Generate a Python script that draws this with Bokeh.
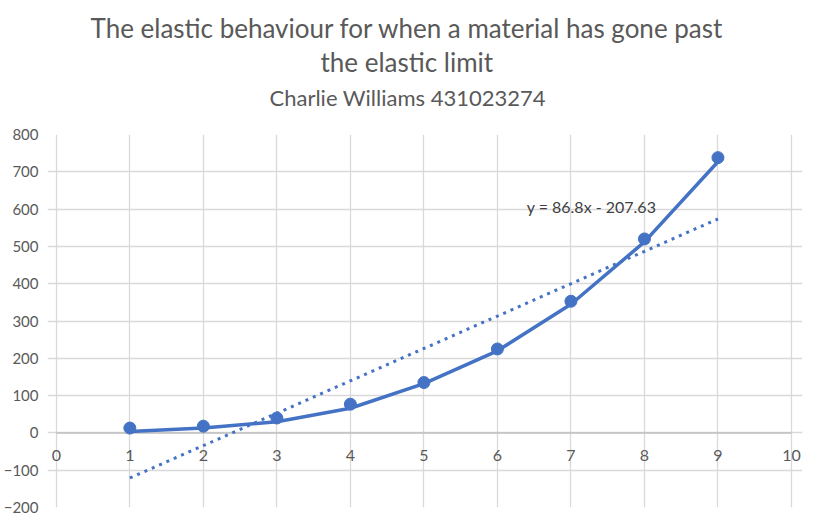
from bokeh.plotting import figure
from bokeh.models import Title, Range1d, FixedTicker, Label, LabelSet, ColumnDataSource
from bokeh.core.properties import value
from bokeh.embed import file_html
from bokeh.resources import INLINE

# data
x_vals = [1, 2, 3, 4, 5, 6, 7, 8, 9]
measured = [13, 18, 40, 77, 135, 225, 353, 520, 738]
series_line = [4, 13, 30, 66, 132, 220, 345, 512, 727]
trend_slope = 86.8
trend_intercept = -207.63
x_ticks = [0, 1, 2, 3, 4, 5, 6, 7, 8, 9, 10]
x_tick_labels = ["0", "1", "2", "3", "4", "5", "6", "7", "8", "9", "10"]
y_ticks = [-200, -100, 0, 100, 200, 300, 400, 500, 600, 700, 800]
title_line1 = "The elastic behaviour for when a material has gone past"
title_line2 = "the elastic limit"
subtitle = "Charlie Williams 431023274"
trend_label = "y = 86.8x - 207.63"

BLUE = "#4472C4"
FONT = "Lato"
GREY = "#595959"

pad_l = 0.12
pad_r = 0.15
p = figure(width=806, height=516, output_backend="svg", toolbar_location=None,
           x_range=Range1d(x_ticks[0] - pad_l, x_ticks[-1] + pad_r),
           y_range=Range1d(y_ticks[0], y_ticks[-1]),
           x_axis_location=None,
           min_border_left=36, min_border_right=4, min_border_bottom=9, min_border_top=0)
p.outline_line_color = None

# outermost title slot used as top padding
p.title.text = " "
p.title.text_font_size = "1px"
p.title.standoff = 6


def add_title(text, size, standoff, left_offset):
    p.add_layout(Title(text=text, align="left", offset=left_offset, text_font=FONT,
                       text_font_size=size, text_font_style="normal",
                       text_color=GREY, standoff=standoff), "above")


add_title(" ", "1px", 17, 0)             # spacer between subtitle and plot area
add_title(subtitle, "22px", 8, 222)
add_title(title_line2, "26px", 0, 273)
add_title(title_line1, "26px", 0, 43)

# grid, bounded to the axis extents
p.xgrid.ticker = FixedTicker(ticks=x_ticks)
p.ygrid.ticker = FixedTicker(ticks=y_ticks)
p.xgrid.bounds = (y_ticks[0], y_ticks[-1])
p.ygrid.bounds = (x_ticks[0], x_ticks[-1])
for g in (p.xgrid, p.ygrid):
    g.grid_line_color = "#d9d9d9"
    g.grid_line_width = 1.3

# x axis: line at y = 0, labels just below it
p.segment(x0=[x_ticks[0]], y0=[0], x1=[x_ticks[-1]], y1=[0], line_color="#bfbfbf", line_width=1.5)
lab_src = ColumnDataSource(dict(x=x_ticks, y=[0] * len(x_ticks), t=x_tick_labels))
p.add_layout(LabelSet(x="x", y="y", text="t", source=lab_src, y_offset=-17,
                      text_align="center", text_baseline="top", text_font=value(FONT),
                      text_font_size=value("16px"), text_color=GREY))

ya = p.yaxis[0]
ya.ticker = FixedTicker(ticks=y_ticks)
ya.axis_line_color = None
ya.major_tick_line_color = None
ya.minor_tick_line_color = None
ya.major_label_standoff = 3
ya.major_label_text_font = FONT
ya.major_label_text_font_size = "15px"
ya.major_label_text_color = GREY

# trendline
tx = [x_vals[0], x_vals[-1]]
ty = [trend_slope * v + trend_intercept for v in tx]
p.line(tx, ty, line_color=BLUE, line_width=3, line_dash="3 5")

# series
p.line(x_vals, series_line, line_color=BLUE, line_width=3.5, line_join="round")
p.scatter(x_vals, measured, size=12, fill_color=BLUE, line_color=BLUE)

p.add_layout(Label(x=7.28, y=606, text=trend_label, text_align="center", text_baseline="middle",
                   text_font=FONT, text_font_size="16px", text_color="#404040"))

open("out.html", "w").write(file_html(p, INLINE))
